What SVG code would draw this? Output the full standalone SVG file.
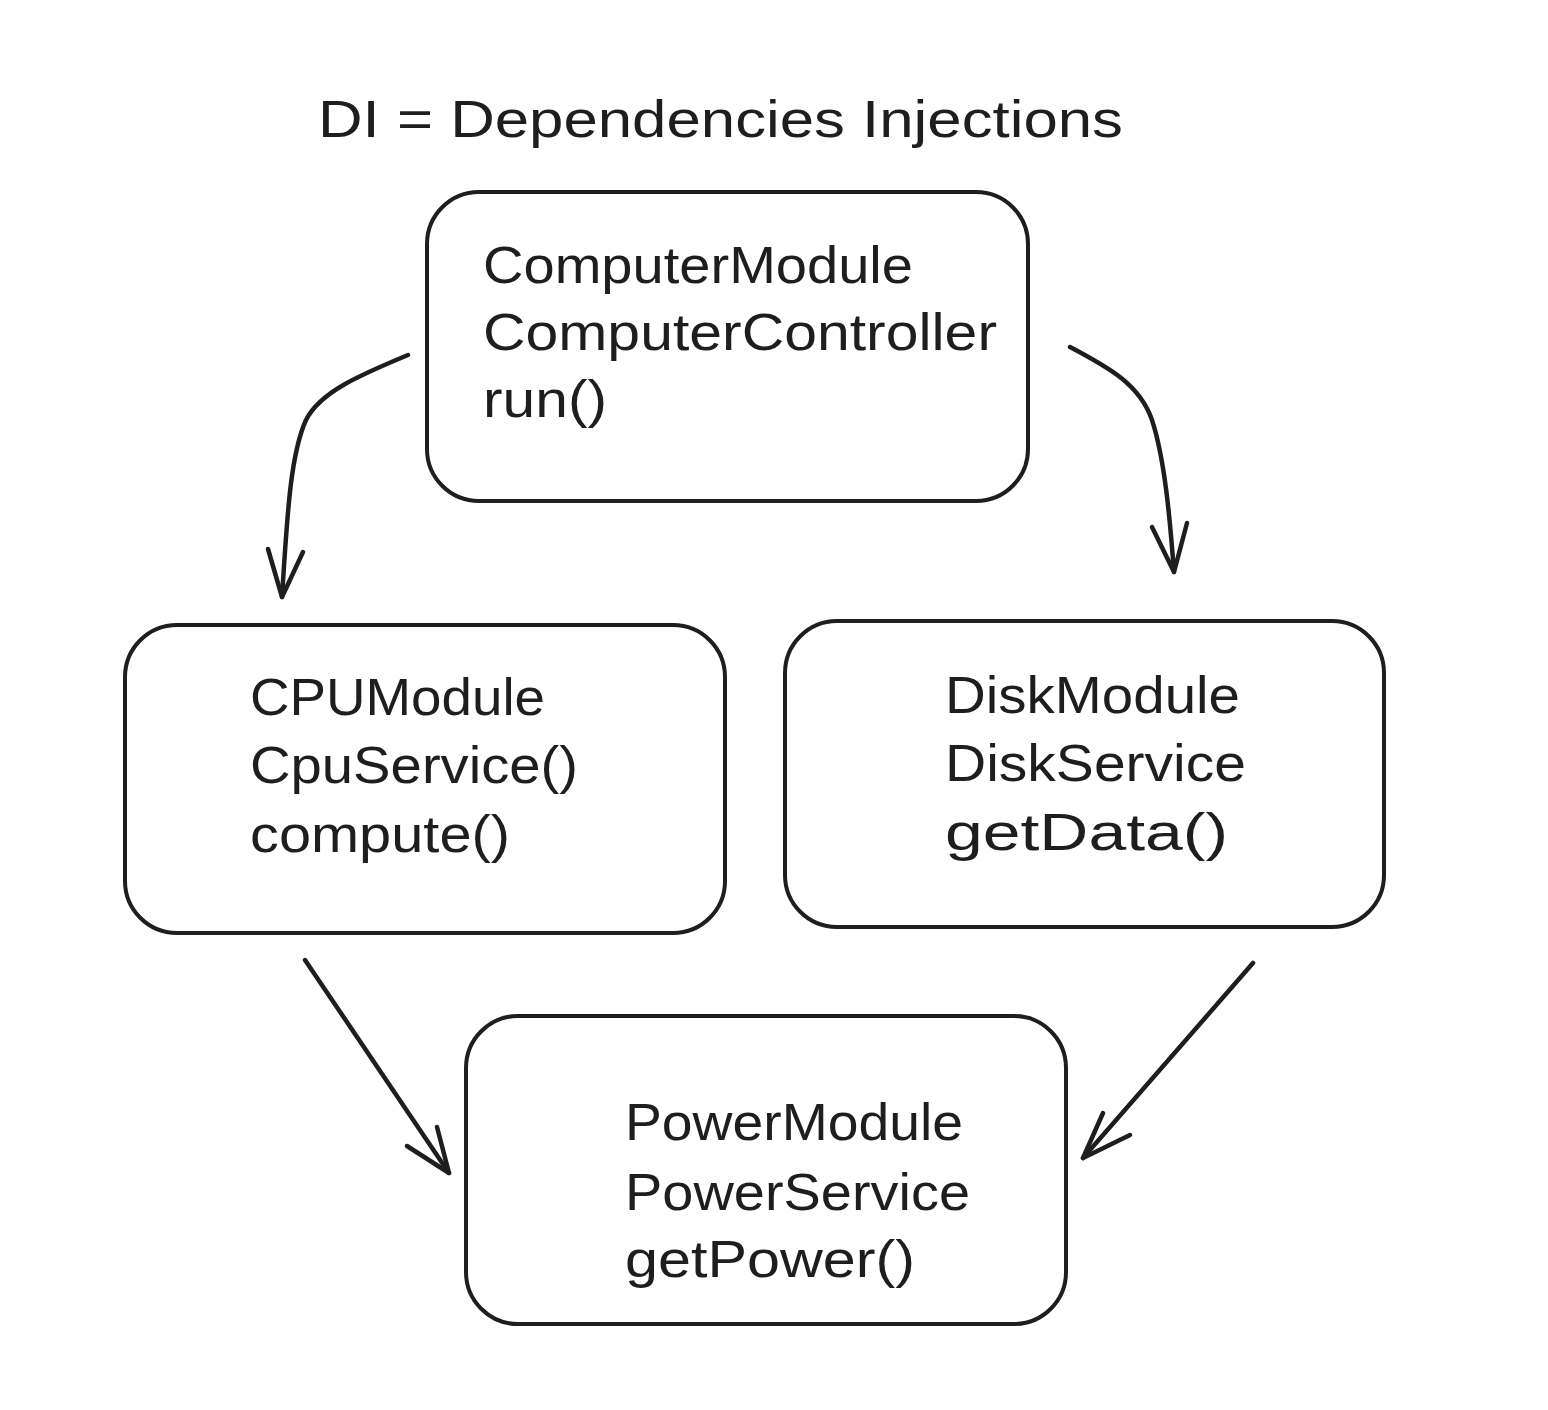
<svg xmlns="http://www.w3.org/2000/svg" width="1548" height="1410" viewBox="0 0 1548 1410">
<style>
.box{fill:#ffffff;stroke:#1e1e1e;stroke-width:4}
.lbl{font-family:"Liberation Sans","DejaVu Sans",sans-serif;font-size:52px;fill:#1e1e1e}
.conn{fill:none;stroke:#1e1e1e;stroke-width:4.5;stroke-linecap:round;stroke-linejoin:round}
</style>
<rect width="1548" height="1410" fill="#ffffff"/>
<g id="title">
<text class="lbl" x="318" y="137" textLength="805" lengthAdjust="spacingAndGlyphs">DI = Dependencies Injections</text>
</g>
<g id="computer-module">
<rect class="box" x="427" y="192" width="601" height="309" rx="52" ry="52"/>
<text class="lbl" x="483" y="283" textLength="430" lengthAdjust="spacingAndGlyphs">ComputerModule</text>
<text class="lbl" x="483" y="350" textLength="514" lengthAdjust="spacingAndGlyphs">ComputerController</text>
<text class="lbl" x="483" y="417" textLength="124" lengthAdjust="spacingAndGlyphs">run()</text>
</g>
<g id="cpu-module">
<rect class="box" x="125" y="625" width="600" height="308" rx="52" ry="52"/>
<text class="lbl" x="250" y="715" textLength="295" lengthAdjust="spacingAndGlyphs">CPUModule</text>
<text class="lbl" x="250" y="783" textLength="328" lengthAdjust="spacingAndGlyphs">CpuService()</text>
<text class="lbl" x="250" y="852" textLength="260" lengthAdjust="spacingAndGlyphs">compute()</text>
</g>
<g id="disk-module">
<rect class="box" x="785" y="621" width="599" height="306" rx="52" ry="52"/>
<text class="lbl" x="945" y="713" textLength="295" lengthAdjust="spacingAndGlyphs">DiskModule</text>
<text class="lbl" x="945" y="781" textLength="301" lengthAdjust="spacingAndGlyphs">DiskService</text>
<text class="lbl" x="945" y="850" textLength="283" lengthAdjust="spacingAndGlyphs">getData()</text>
</g>
<g id="power-module">
<rect class="box" x="466" y="1016" width="600" height="308" rx="52" ry="52"/>
<text class="lbl" x="625" y="1140" textLength="338" lengthAdjust="spacingAndGlyphs">PowerModule</text>
<text class="lbl" x="625" y="1210" textLength="345" lengthAdjust="spacingAndGlyphs">PowerService</text>
<text class="lbl" x="625" y="1277" textLength="290" lengthAdjust="spacingAndGlyphs">getPower()</text>
</g>
<g id="connectors">
<path class="conn" d="M408,355 C360,375 320,392 306,420 C290,455 287,520 282,597"/>
<path class="conn" d="M268,549 L282,597 L303,552"/>
<path class="conn" d="M1070,347 C1110,368 1140,385 1152,420 C1165,460 1170,520 1174,572"/>
<path class="conn" d="M1152,527 L1174,572 L1187,523"/>
<path class="conn" d="M305,960 L449,1173"/>
<path class="conn" d="M407,1146 L449,1173 L437,1127"/>
<path class="conn" d="M1253,963 L1083,1158"/>
<path class="conn" d="M1103,1113 L1083,1158 L1130,1135"/>
</g>
</svg>
